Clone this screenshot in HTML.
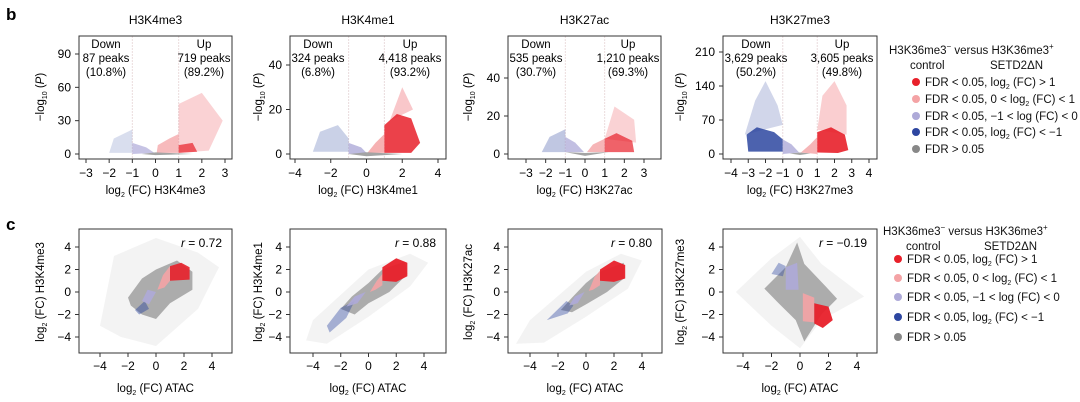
<!DOCTYPE html>
<html><head><meta charset="utf-8"><style>
body{margin:0;background:#fff;}
svg{display:block;font-family:"Liberation Sans",sans-serif;}
</style></head><body>
<svg id="fig" width="1080" height="402" viewBox="0 0 1080 402" xmlns="http://www.w3.org/2000/svg">
<text x="6" y="20" font-size="17" font-weight="bold">b</text>
<text x="6" y="230" font-size="17" font-weight="bold">c</text>
<g id="plots"></g>
<g font-size="11.5" fill="#111">
<text x="889" y="54">H3K36me3<tspan font-size="8" dy="-5">−</tspan><tspan dy="5"> versus H3K36me3</tspan><tspan font-size="8" dy="-5">+</tspan></text>
<text x="910" y="69">control</text><text x="990" y="69">SETD2ΔN</text>
<circle cx="916" cy="82" r="4" fill="#e8202a"/><text x="925" y="86">FDR &lt; 0.05, log<tspan font-size="7" dy="3">2</tspan><tspan dy="-3"> (FC) &gt; 1</tspan></text>
<circle cx="916" cy="99" r="4" fill="#f4a3a5"/><text x="925" y="103">FDR &lt; 0.05, 0 &lt; log<tspan font-size="7" dy="3">2</tspan><tspan dy="-3"> (FC) &lt; 1</tspan></text>
<circle cx="916" cy="116" r="4" fill="#aeaad8"/><text x="925" y="120">FDR &lt; 0.05, −1 &lt; log (FC) &lt; 0</text>
<circle cx="916" cy="132" r="4" fill="#2d46a0"/><text x="925" y="136">FDR &lt; 0.05, log<tspan font-size="7" dy="3">2</tspan><tspan dy="-3"> (FC) &lt; −1</tspan></text>
<circle cx="916" cy="149" r="4" fill="#888"/><text x="925" y="153">FDR &gt; 0.05</text>
</g>
<g font-size="11.5" fill="#111">
<text x="883" y="235">H3K36me3<tspan font-size="8" dy="-5">−</tspan><tspan dy="5"> versus H3K36me3</tspan><tspan font-size="8" dy="-5">+</tspan></text>
<text x="906" y="250">control</text><text x="984" y="250">SETD2ΔN</text>
<circle cx="898" cy="259" r="4" fill="#e8202a"/><text x="907" y="263">FDR &lt; 0.05, log<tspan font-size="7" dy="3">2</tspan><tspan dy="-3"> (FC) &gt; 1</tspan></text>
<circle cx="898" cy="278" r="4" fill="#f4a3a5"/><text x="907" y="282">FDR &lt; 0.05, 0 &lt; log<tspan font-size="7" dy="3">2</tspan><tspan dy="-3"> (FC) &lt; 1</tspan></text>
<circle cx="898" cy="297" r="4" fill="#aeaad8"/><text x="907" y="301">FDR &lt; 0.05, −1 &lt; log (FC) &lt; 0</text>
<circle cx="898" cy="317" r="4" fill="#2d46a0"/><text x="907" y="321">FDR &lt; 0.05, log<tspan font-size="7" dy="3">2</tspan><tspan dy="-3"> (FC) &lt; −1</tspan></text>
<circle cx="898" cy="337" r="4" fill="#888"/><text x="907" y="341">FDR &gt; 0.05</text>
</g>
</svg>
<script>
// ---- data ----
const volcanoNames = ["H3K4me3","H3K4me1","H3K27ac","H3K27me3"];
const volcanoXTicks = [[-3,-2,-1,0,1,2,3],[-4,-2,0,2,4],[-3,-2,-1,0,1,2,3],[-4,-3,-2,-1,0,1,2,3,4]];
const volcanoYTicks = [[0,30,60,90],[0,20,40],[0,20,40],[0,70,140,210]];
const downPeaks = ["87","324","535","3,629"];
const downPct = ["10.8%","6.8%","30.7%","50.2%"];
const upPeaks = ["719","4,418","1,210","3,605"];
const upPct = ["89.2%","93.2%","69.3%","49.8%"];
// cloud polygons (data units) per volcano panel: [category, opacity, vertices]
const volcanoClouds = [
 [["blue",0.18,[[-2,1],[-1.8,14],[-1,22],[-1,1]]],["lblue",0.7,[[-1,0],[-1,10],[-0.4,6],[-0.05,1]]],["pink",0.75,[[0.05,1],[0.1,8],[0.6,14],[1,18],[1,1]]],["red",0.2,[[1,1],[1,45],[2,55],[2.9,30],[2.3,3]]],["red",0.7,[[1,1],[1,8],[1.6,10],[1.8,2]]],["grey",0.9,[[-0.6,0],[0,-1],[1.6,0],[0,1.5]]]],
 [["blue",0.25,[[-3,1],[-2.6,10],[-1.6,13],[-1,7],[-1,1]]],["lblue",0.8,[[-1,0],[-1,5],[-0.3,3],[0,0.5]]],["pink",0.85,[[0.05,0.5],[0.5,5],[1,9],[1,0.5]]],["red",0.85,[[1,0.5],[1,13],[1.7,18],[2.5,16],[3,5],[2.5,0.5]]],["red",0.25,[[1.3,15],[2,30],[2.6,20]]],["grey",0.9,[[-1,0],[0,-1],[2,0],[0,0.8]]]],
 [["blue",0.3,[[-2.2,1],[-1.8,9],[-1,13],[-1,1]]],["lblue",0.75,[[-1,1],[-1,9],[-0.5,6],[-0.05,1]]],["pink",0.8,[[0.1,1],[0.4,5],[1,8],[1,1]]],["red",0.7,[[1,1],[1,8],[1.6,11],[2.4,7],[2.5,1]]],["red",0.2,[[1,8],[1.5,25],[2.5,18],[2.6,6]]],["grey",0.9,[[-1,1],[0,-1],[1.2,1],[0,0.5]]]],
 [["blue",0.85,[[-3,5],[-3.1,40],[-2.5,55],[-1.5,45],[-1,30],[-1,5]]],["blue",0.22,[[-3.2,40],[-2.6,110],[-2,150],[-1.3,100],[-1,60]]],["lblue",0.8,[[-1,0],[-1,30],[-0.5,20],[-0.05,3]]],["pink",0.8,[[0.05,3],[0.6,20],[1,35],[1,0]]],["red",0.9,[[1,3],[1,45],[1.8,55],[2.6,40],[2.8,8],[2.2,2]]],["red",0.22,[[1,50],[1.3,120],[2,150],[2.7,100],[2.7,40]]],["grey",0.9,[[-0.6,1],[0,-2],[0.6,1],[0,3]]]]
];
const scatterYNames = ["H3K4me3","H3K4me1","H3K27ac","H3K27me3"];
const scatterR = ["0.72","0.88","0.80","−0.19"];
const scatterTicks = [-4,-2,0,2,4];
// scatter clouds: [category, opacity, vertices]
const scatterClouds = [
 [["grey",0.12,[[-4,-3],[-3,3.2],[0,4.8],[3,3.5],[4.5,2.2],[3,-1.5],[0,-4.8],[-2.5,-4]]],["grey",0.8,[[-2,-0.5],[-1,1.2],[0,2],[1.5,2.8],[2.6,1.8],[2.6,0.2],[1,-1],[0,-2.4],[-1,-2],[-1.8,-1.2]]],["blue",0.45,[[-1.5,-1.6],[-0.8,-0.8],[-0.5,-1.5],[-1.2,-2]]],["lblue",0.9,[[-1,-0.8],[-0.6,0.2],[0,0],[-0.5,-1.1]]],["pink",0.9,[[0.1,0.2],[0.5,1.5],[1,2.3],[1,1],[0.6,0.4]]],["red",0.9,[[1,1],[1,2.3],[1.8,2.6],[2.4,2.2],[2.4,1.1]]]],
 [["grey",0.12,[[-4.5,-4.3],[-4,-2.5],[0,2],[3,3.4],[4.3,2.6],[3,0.5],[0,-2.2],[-3,-4.6]]],["grey",0.8,[[-2,-1.5],[-1.2,-0.4],[0,0.8],[1,2],[2.6,2.7],[2.8,1.6],[1.5,0],[0,-1],[-1,-2]]],["blue",0.4,[[-3,-3],[-2,-1.4],[-1,-0.8],[-1.6,-2.3],[-2.8,-3.6]]],["lblue",0.9,[[-1.6,-1.3],[-1,-0.4],[-0.2,0],[-0.8,-1]]],["pink",0.9,[[0.1,0],[0.6,1],[1,1.6],[1,0.6],[0.5,0.2]]],["red",0.95,[[1,1],[1,2.2],[2,3],[2.8,2.6],[2.8,1.4],[2,0.9]]]],
 [["grey",0.12,[[-5,-4.6],[-4,-2.5],[0,1.8],[2.5,3.4],[4,2.8],[3,0.3],[0,-2.2],[-3,-4.5]]],["grey",0.8,[[-1.8,-1.6],[-1,-0.5],[0,0.8],[1,1.8],[2.7,2.6],[2.7,1.2],[1.5,0],[0,-1.1],[-1,-1.8]]],["blue",0.4,[[-2.8,-2.5],[-1.4,-0.8],[-0.9,-1.2],[-1.3,-1.9]]],["lblue",0.9,[[-1.2,-1.2],[-0.8,-0.4],[-0.1,0],[-0.6,-1]]],["pink",0.9,[[0.2,0.1],[0.6,1.3],[1,1.9],[1,0.6],[0.5,0.2]]],["red",0.95,[[1,1],[1,2],[2,2.8],[2.8,2.4],[2.8,1.2],[2,0.9]]]],
 [["grey",0.12,[[-4.5,0],[-2,3],[0,4.9],[1.5,2.5],[4.5,-0.4],[1.5,-2.5],[0,-5],[-2,-3]]],["grey",0.8,[[-2.5,0.3],[-1,2.2],[-0.2,4.4],[0.3,2.5],[1.8,0.5],[2.6,-0.6],[1.5,-2],[0.3,-4.4],[-0.3,-2.5],[-1.5,-1]]],["blue",0.4,[[-2,1.6],[-1.5,2.6],[-1,2.3],[-1.2,1.4]]],["lblue",0.9,[[-1,0.2],[-1,2.2],[-0.2,2.6],[-0.1,0.2]]],["pink",0.9,[[0.2,-0.1],[0.2,-2.6],[1,-2.7],[1,-0.5]]],["red",0.95,[[1,-1],[1,-2.8],[1.6,-3.2],[2.3,-2.5],[2,-1.3]]]]
];
const colors = {red:"#e8202a",pink:"#f4a3a5",lblue:"#aeaad8",blue:"#2d46a0",grey:"#9a9a9a"};
// ---- layout ----
const NS="http://www.w3.org/2000/svg";
const root=document.getElementById('plots');
function mk(tag,attrs,parent){const e=document.createElementNS(NS,tag);for(const k in attrs)e.setAttribute(k,attrs[k]);(parent||root).appendChild(e);return e;}
function linScale(d0,d1,r0,r1){return v=>r0+(v-d0)*(r1-r0)/(d1-d0);}
const vBoxes=[[79,232],[290,446],[508,661],[723,877]];
const vX=[[-3,3,86,225],[-4,4,295,438],[-3,3,526,644],[-4,4,731,869]];
const vY=[[0,90,154,54],[0,40,154,65],[0,40,154,78],[0,210,154,52]];
const vDown=[106,318,536,756], vUp=[204,410,628,842], vYl=[40,258,468,680];
for(let p=0;p<4;p++){
  const g=mk('g',{});
  
  
  const sx=linScale(vX[p][0],vX[p][1],vX[p][2],vX[p][3]);
  const sy=linScale(vY[p][0],vY[p][1],vY[p][2],vY[p][3]);
  const [bx0,bx1]=vBoxes[p];
  const t=mk('text',{x:(bx0+bx1)/2,y:24,'font-size':12,'text-anchor':'middle'},g);t.textContent=volcanoNames[p];
  
  
  for(const xv of [-1,1]){const l=mk('line',{x1:sx(xv),x2:sx(xv),y1:36,y2:159,stroke:'#eadcdd','stroke-width':1,'stroke-dasharray':'2,1'},g);
    
    }
  for(const c of volcanoClouds[p]){
    const pg=mk('polygon',{points:c[2].map(v=>sx(v[0])+','+sy(v[1])).join(' '),fill:colors[c[0]],'fill-opacity':c[1]},g);
    
    
  }
  const box=mk('rect',{x:bx0,y:36,width:bx1-bx0,height:123,fill:'none',stroke:'#333','stroke-width':1},g);
  
  
  for(const xv of volcanoXTicks[p]){mk('line',{x1:sx(xv),x2:sx(xv),y1:159,y2:163,stroke:'#333'},g);
    const tx=mk('text',{x:sx(xv),y:177,'font-size':12,'text-anchor':'middle'},g);tx.textContent=xv<0?'−'+(-xv):xv;
    
    }
  for(const yv of volcanoYTicks[p]){mk('line',{x1:bx0-4,x2:bx0,y1:sy(yv),y2:sy(yv),stroke:'#333'},g);
    const ty=mk('text',{x:bx0-8,y:sy(yv)+4,'font-size':12,'text-anchor':'end'},g);ty.textContent=yv;
    
    }
  const xl=mk('text',{x:(bx0+bx1)/2,y:194,'font-size':11.5,'text-anchor':'middle'},g);
  xl.innerHTML='log<tspan font-size="7" dy="3">2</tspan><tspan dy="-3"> (FC) '+volcanoNames[p]+'</tspan>';
  
  
  const yl=mk('text',{x:0,y:0,'font-size':11.5,'text-anchor':'middle',transform:'translate('+(vYl[p]+4)+',97) rotate(-90)'},g);
  yl.innerHTML='−log<tspan font-size="7" dy="3">10</tspan><tspan dy="-3"> (</tspan><tspan font-style="italic">P</tspan>)';
  
  
  const lines=[['Down',downPeaks[p]+' peaks','('+downPct[p]+')',vDown[p]],['Up',upPeaks[p]+' peaks','('+upPct[p]+')',vUp[p]]];
  for(const L of lines){for(let i=0;i<3;i++){const a=mk('text',{x:L[3],y:48+i*14,'font-size':11.5,'text-anchor':'middle'},g);a.textContent=L[i];
    
    }}
}
const cBoxes=[[79,232],[290,446],[508,662],[723,877]];
const cX=[[100,212],[313,424],[530,642],[743,857]];
const cYl=[40,258,468,680];
for(let p=0;p<4;p++){
  const g=mk('g',{});
  
  
  const sx=linScale(-4,4,cX[p][0],cX[p][1]);
  const sy=linScale(-4,4,337,247);
  const [bx0,bx1]=cBoxes[p];
  for(const c of scatterClouds[p]){
    const pg=mk('polygon',{points:c[2].map(v=>sx(v[0])+','+sy(v[1])).join(' '),fill:colors[c[0]],'fill-opacity':c[1],'stroke-linejoin':'round'},g);
    
    
  }
  const box=mk('rect',{x:bx0,y:229,width:bx1-bx0,height:124,fill:'none',stroke:'#333','stroke-width':1},g);
  
  
  for(const v of scatterTicks){
    mk('line',{x1:sx(v),x2:sx(v),y1:353,y2:357,stroke:'#333'},g);
    const tx=mk('text',{x:sx(v),y:370,'font-size':12,'text-anchor':'middle'},g);tx.textContent=v<0?'−'+(-v):v;
    
    
    mk('line',{x1:bx0-4,x2:bx0,y1:sy(v),y2:sy(v),stroke:'#333'},g);
    const ty=mk('text',{x:bx0-8,y:sy(v)+4,'font-size':12,'text-anchor':'end'},g);ty.textContent=v<0?'−'+(-v):v;
    
    
  }
  const r=mk('text',{x:bx1-10,y:247,'font-size':12,'text-anchor':'end'},g);
  r.innerHTML='<tspan font-style="italic">r</tspan> = '+scatterR[p];
  
  
  const xl=mk('text',{x:(bx0+bx1)/2,y:392,'font-size':11.5,'text-anchor':'middle'},g);
  xl.innerHTML='log<tspan font-size="7" dy="3">2</tspan><tspan dy="-3"> (FC) ATAC</tspan>';
  
  
  const yl=mk('text',{x:0,y:0,'font-size':11.5,'text-anchor':'middle',transform:'translate('+(cYl[p]+4)+',292) rotate(-90)'},g);
  yl.innerHTML='log<tspan font-size="7" dy="3">2</tspan><tspan dy="-3"> (FC) '+scatterYNames[p]+'</tspan>';
  
  
}
</script>
</body></html>
